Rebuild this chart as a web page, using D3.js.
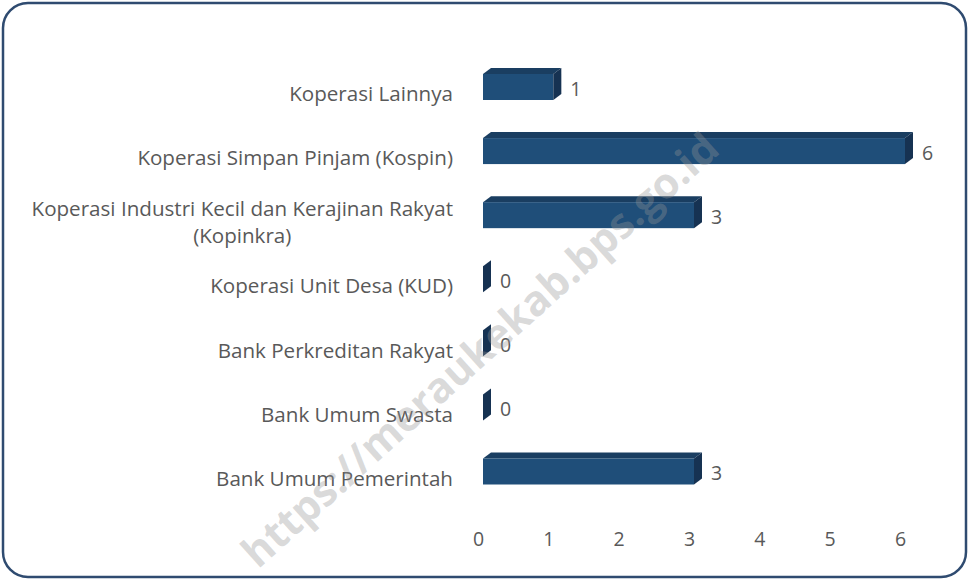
<!DOCTYPE html>
<html>
<head>
<meta charset="utf-8">
<script src="https://cdn.jsdelivr.net/npm/d3@7"></script>
<style>
  html, body { margin: 0; padding: 0; background: #fff; }
  svg { display: block; }
</style>
</head>
<body>
<svg id="chart" width="971" height="580"></svg>
<script>
// data, top to bottom as in the chart
var categories = [
    'Koperasi Lainnya',
    'Koperasi Simpan Pinjam (Kospin)',
    'Koperasi Industri Kecil dan Kerajinan Rakyat (Kopinkra)',
    'Koperasi Unit Desa (KUD)',
    'Bank Perkreditan Rakyat',
    'Bank Umum Swasta',
    'Bank Umum Pemerintah'
];
var values = [1, 6, 3, 0, 0, 0, 3];
var xTicks = [0, 1, 2, 3, 4, 5, 6];
var watermark = 'https://meraukekab.bps.go.id';

var W = 971, H = 580,
    font = '"Open Sans", Lato, sans-serif',
    fontSize = '19.5px',
    labelSize = '20.6px',
    textColor = '#595959',
    frontFill = '#1f4e79',
    topFill = '#1a3e61',
    sideFill = '#163252';

var svg = d3.select('#chart');

// chart frame
svg.append('rect')
    .attr('x', 3).attr('y', 3)
    .attr('width', W - 8).attr('height', H - 6)
    .attr('rx', 25).attr('ry', 25)
    .style('fill', '#fff')
    .style('stroke', '#2f4b70')
    .style('stroke-width', 2.5);

var x = d3.scaleLinear().domain([0, 6]).range([478, 900]);
var y = d3.scalePoint().domain(categories).range([87, 471.5]);

// 3d look: front face shifted right, depth goes up-right
var shift = 5, dx = 8, dy = 6, barH = 26;

var bars = svg.append('g').attr('class', 'bars')
    .selectAll('g')
    .data(categories)
    .enter().append('g');

bars.each(function(d, i){
    var $g = d3.select(this),
        v = values[i],
        x0 = x(0) + shift,
        x1 = x(v) + shift,
        yt = y(d) - barH / 2,
        yb = y(d) + barH / 2;

    if (v > 0) {
        // top face
        $g.append('path')
            .attr('d', 'M' + x0 + ',' + yt + 'L' + (x0 + dx) + ',' + (yt - dy) +
                'L' + (x1 + dx) + ',' + (yt - dy) + 'L' + x1 + ',' + yt + 'Z')
            .style('fill', topFill);
        // front face
        $g.append('rect')
            .attr('x', x0).attr('y', yt)
            .attr('width', x1 - x0).attr('height', barH)
            .style('fill', frontFill);
    }
    // side face (only this shows for zero values)
    $g.append('path')
        .attr('d', 'M' + x1 + ',' + yt + 'L' + (x1 + dx) + ',' + (yt - dy) +
            'L' + (x1 + dx) + ',' + (yb - dy) + 'L' + x1 + ',' + yb + 'Z')
        .style('fill', sideFill);

    // value label
    $g.append('text')
        .attr('x', x1 + dx + 9)
        .attr('y', y(d) + 2)
        .attr('dy', '0.35em')
        .style('font-family', font)
        .style('font-size', fontSize)
        .style('fill', textColor)
        .text(v);
});

// category labels, long one wraps in two centred lines
var labelRight = 453;
var labels = svg.append('g').attr('class', 'y-labels');
categories.forEach(function(d){
    var lines = d.length > 40 ? ['Koperasi Industri Kecil dan Kerajinan Rakyat', '(Kopinkra)'] : [d];
    var t = labels.append('text')
        .style('font-family', font)
        .style('font-size', labelSize)
        .style('fill', textColor);
    var lh = 27,
        cy = y(d) + 7 - (lines.length - 1) * lh / 2;
    lines.forEach(function(l, k){
        t.append('tspan').attr('y', cy + k * lh).attr('dy', '0.35em').text(l);
    });
    if (lines.length === 1) {
        t.attr('text-anchor', 'end').selectAll('tspan').attr('x', labelRight);
    } else {
        var w = 0;
        t.selectAll('tspan').each(function(){ w = Math.max(w, this.getComputedTextLength()); });
        t.attr('text-anchor', 'middle').selectAll('tspan').attr('x', labelRight - w / 2);
    }
});

// x axis, labels only
var xAxis = d3.axisBottom(x).tickValues(xTicks).tickFormat(d3.format('d'))
    .tickSize(0).tickPadding(0);
var gx = svg.append('g')
    .attr('transform', 'translate(0,' + 532 + ')')
    .call(xAxis);
gx.select('.domain').remove();
gx.selectAll('text')
    .attr('dy', '0.72em')
    .style('font-family', font)
    .style('font-size', fontSize)
    .style('fill', textColor);

// watermark on top
svg.append('text')
    .attr('transform', 'translate(480,350) rotate(-42)')
    .attr('text-anchor', 'middle')
    .attr('dy', '0.35em')
    .style('font-family', '"Open Sans", sans-serif')
    .style('font-weight', 'bold')
    .style('font-size', '42px')
    .style('fill', 'rgba(150,150,150,0.36)')
    .text(watermark);
</script>
</body>
</html>
